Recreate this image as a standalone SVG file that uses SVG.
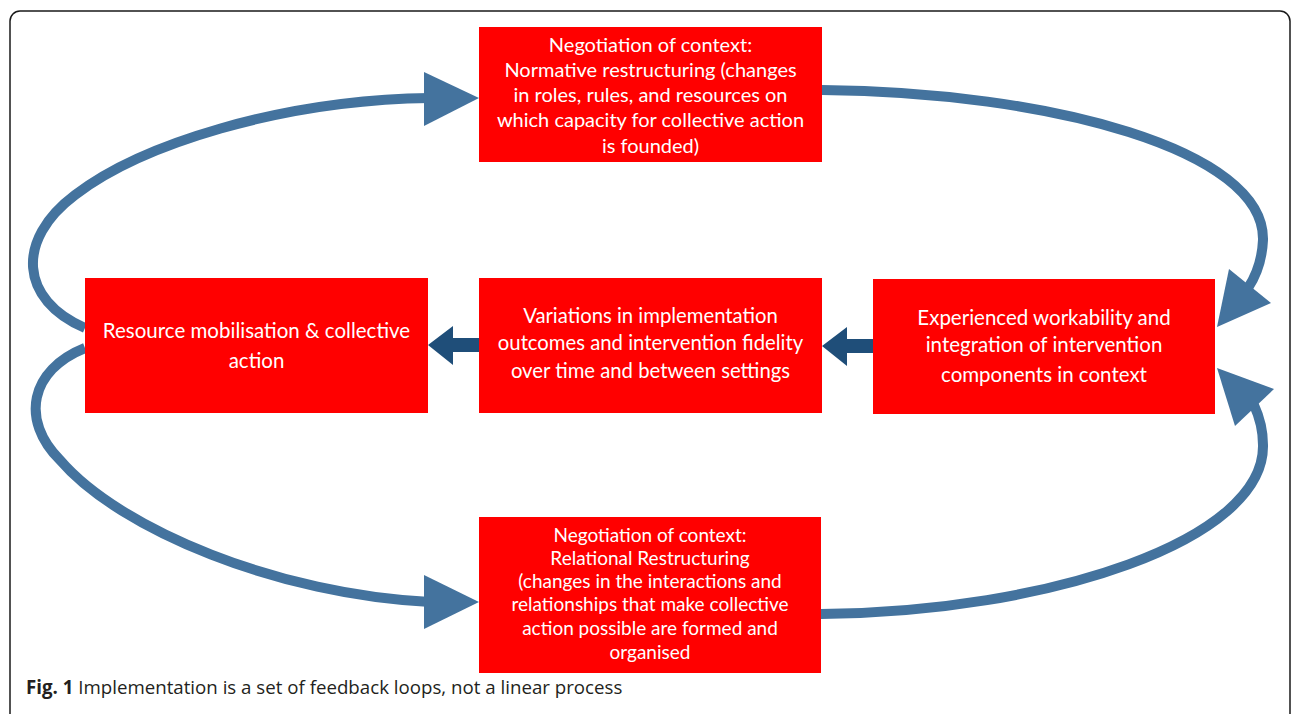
<svg xmlns="http://www.w3.org/2000/svg" width="1292" height="714" viewBox="0 0 1292 714">
<defs>
<style>
.box{fill:#FF0000;}
.t{font-family:Lato,"Open Sans","Liberation Sans",sans-serif;fill:#FFFFFF;text-anchor:middle;}
.t19{font-size:19px;}
.t20{font-size:20px;}
.t205{font-size:20.5px;}
.loop{fill:none;stroke:#44739E;stroke-width:10;}
.head{fill:#44739E;}
.dark{fill:#1F4E79;}
.cap{font-family:"Open Sans","Liberation Sans",sans-serif;font-size:18.7px;fill:#231F20;}
</style>
</defs>
<rect x="10" y="11" width="1280" height="740" rx="10" ry="10" fill="#FFFFFF" stroke="#1A1A1A" stroke-width="1.5"/>
<g id="connectors">
<path class="loop" d="M 85 328 C 20 300, 15 240, 75 195 C 140 145, 280 100, 430 98"/>
<polygon class="head" points="479,98 424,72 424,126"/>
<path class="loop" d="M 822 90 C 1050 92, 1265 150, 1263 240 C 1262 262, 1256 276, 1248 288"/>
<polygon class="head" points="1217,327 1229,269 1271,303"/>
<path class="loop" d="M 85 348 C 30 370, 20 420, 60 460 C 120 530, 280 595, 430 602"/>
<polygon class="head" points="479,602 424,575 424,629"/>
<path class="loop" d="M 821 614 C 1050 612, 1265 540, 1263 445 C 1263 430, 1260 418, 1254 405"/>
<polygon class="head" points="1217,368 1235,426 1274,389"/>
<polygon class="dark" points="479,338 453,338 453,326 428,345 453,365 453,352 479,352"/>
<polygon class="dark" points="873,339 847,339 847,327 822,346 847,366 847,353 873,353"/>
</g>
<g id="node-top">
<rect class="box" x="479" y="27" width="343" height="135"/>
<text class="t t20" x="650.5" y="52">Negotiation of context:</text>
<text class="t t20" x="650.5" y="77">Normative restructuring (changes</text>
<text class="t t20" x="650.5" y="102">in roles, rules, and resources on</text>
<text class="t t20" x="650.5" y="127">which capacity for collective action</text>
<text class="t t20" x="650.5" y="153">is founded)</text>
</g>
<g id="node-left">
<rect class="box" x="85" y="278" width="343" height="135"/>
<text class="t t205" x="256.5" y="338">Resource mobilisation &amp; collective</text>
<text class="t t205" x="256.5" y="368">action</text>
</g>
<g id="node-middle">
<rect class="box" x="479" y="278" width="343" height="135"/>
<text class="t" style="font-size:20.3px" x="650.5" y="323">Variations in implementation</text>
<text class="t" style="font-size:20.3px" x="650.5" y="350">outcomes and intervention fidelity</text>
<text class="t" style="font-size:20.3px" x="650.5" y="378">over time and between settings</text>
</g>
<g id="node-right">
<rect class="box" x="873" y="279" width="342" height="135"/>
<text class="t t205" x="1044" y="325">Experienced workability and</text>
<text class="t t205" x="1044" y="352">integration of intervention</text>
<text class="t t205" x="1044" y="382">components in context</text>
</g>
<g id="node-bottom">
<rect class="box" x="479" y="517" width="342" height="156"/>
<text class="t t19" x="650" y="542">Negotiation of context:</text>
<text class="t t19" x="650" y="565">Relational Restructuring</text>
<text class="t t19" x="650" y="588">(changes in the interactions and</text>
<text class="t t19" x="650" y="611">relationships that make collective</text>
<text class="t t19" x="650" y="635">action possible are formed and</text>
<text class="t t19" x="650" y="659">organised</text>
</g>
<text class="cap" x="26" y="694"><tspan font-weight="bold">Fig. 1</tspan> Implementation is a set of feedback loops, not a linear process</text>
</svg>
